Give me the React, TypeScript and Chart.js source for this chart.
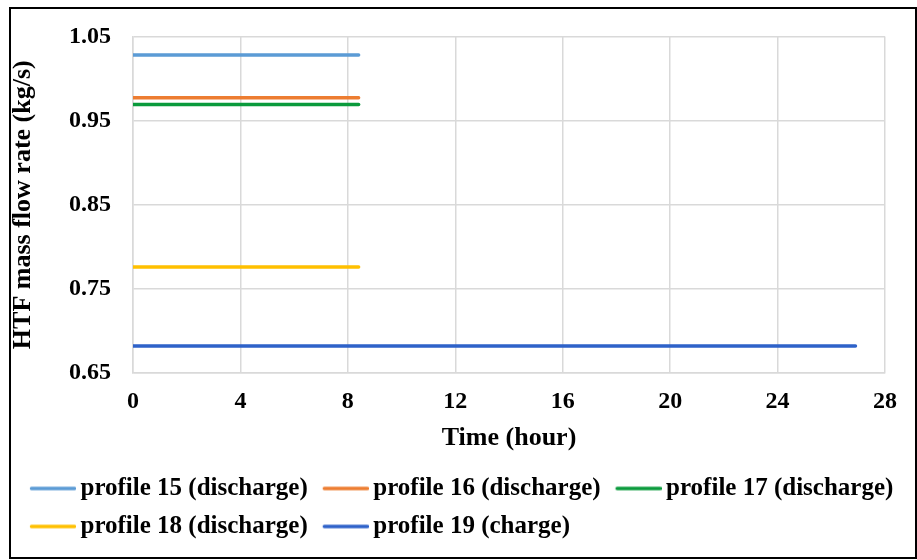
import React, { useEffect, useRef } from "react";
import { Chart, registerables } from "chart.js";

Chart.register(...registerables);

// ---- data ----
const seriesLabels = [
  "profile 15 (discharge)",
  "profile 16 (discharge)",
  "profile 17 (discharge)",
  "profile 18 (discharge)",
  "profile 19 (charge)",
];
const dischargeTimes = [0, 8.4];
const chargeTimes = [0, 26.9];
const flow15 = [1.028, 1.028];
const flow16 = [0.977, 0.977];
const flow17 = [0.969, 0.969];
const flow18 = [0.776, 0.776];
const flow19 = [0.682, 0.682];
const xTicks = [0, 4, 8, 12, 16, 20, 24, 28];
const yTicks = [0.65, 0.75, 0.85, 0.95, 1.05];

const seriesColors = ["#5b9bd5", "#ed7d31", "#0a9a3c", "#ffc000", "#2e62c9"];
const FONT = "'Liberation Serif', 'Times New Roman', serif";

function toPoints(xs: number[], ys: number[]) {
  return xs.map((x, i) => ({ x, y: ys[i] }));
}

// legend sample: a short line drawn into a small canvas, placed near the label text
function legendSwatch(color: string) {
  const c = document.createElement("canvas");
  c.width = 56;
  c.height = 6;
  const ctx = c.getContext("2d")!;
  ctx.strokeStyle = color;
  ctx.lineWidth = 3.5;
  ctx.lineCap = "round";
  ctx.beginPath();
  ctx.moveTo(11.5, 3);
  ctx.lineTo(54.5, 3);
  ctx.stroke();
  return c;
}

export default function App() {
  const ref = useRef<HTMLCanvasElement>(null);

  useEffect(() => {
    if (!ref.current) return;
    const seriesData = [
      toPoints(dischargeTimes, flow15),
      toPoints(dischargeTimes, flow16),
      toPoints(dischargeTimes, flow17),
      toPoints(dischargeTimes, flow18),
      toPoints(chargeTimes, flow19),
    ];
    const grid = "#d9d9d9";
    const chart = new Chart(ref.current, {
      type: "line",
      data: {
        datasets: seriesLabels.map((label, i) => ({
          label,
          data: seriesData[i],
          borderColor: seriesColors[i],
          backgroundColor: seriesColors[i],
          borderWidth: 3.5,
          borderCapStyle: "round",
          pointRadius: 0,
          pointStyle: legendSwatch(seriesColors[i]),
          fill: false,
          xAxisID: "x",
          yAxisID: "y",
        })),
      },
      options: {
        animation: false,
        responsive: false,
        events: [],
        layout: { padding: { left: 15, right: 0, top: 33, bottom: 11 } },
        plugins: {
          tooltip: { enabled: false },
          legend: {
            position: "bottom",
            align: "start",
            labels: {
              usePointStyle: true,
              pointStyleWidth: 40,
              boxHeight: 25,
              padding: 13,
              color: "#000",
              font: { family: FONT, size: 25, weight: "bold" },
            },
          },
        },
        scales: {
          x: {
            type: "linear",
            min: xTicks[0],
            max: xTicks[xTicks.length - 1],
            afterBuildTicks: (s: any) => {
              s.ticks = xTicks.map((v) => ({ value: v }));
            },
            afterFit: (s: any) => {
              s.height = 90;
            },
            grid: { color: grid, lineWidth: 1.5, drawTicks: false },
            border: { color: grid, width: 1.5 },
            ticks: {
              padding: 14,
              color: "#000",
              maxRotation: 0,
              autoSkip: false,
              font: { family: FONT, size: 24, weight: "bold" },
            },
            title: {
              display: true,
              text: "Time (hour)",
              color: "#000",
              padding: { top: 0, bottom: 9 },
              font: { family: FONT, size: 26, weight: "bold" },
            },
          },
          y: {
            type: "linear",
            position: "left",
            min: yTicks[0],
            max: yTicks[yTicks.length - 1],
            afterBuildTicks: (s: any) => {
              s.ticks = yTicks.map((v) => ({ value: v }));
            },
            afterFit: (s: any) => {
              s.width = 118;
            },
            grid: { color: grid, lineWidth: 1.5, drawTicks: false },
            border: { color: grid, width: 1.5 },
            ticks: {
              padding: 22,
              color: "#000",
              autoSkip: false,
              callback: (v: any) => Number(v).toFixed(2),
              font: { family: FONT, size: 24, weight: "bold" },
            },
            title: {
              display: true,
              text: "HTF mass flow rate (kg/s)",
              color: "#000",
              padding: { top: -7, bottom: 0 },
              font: { family: FONT, size: 26, weight: "bold" },
            },
          },
          yRight: {
            type: "linear",
            position: "right",
            display: true,
            afterFit: (s: any) => {
              s.width = 32;
            },
            grid: { display: false },
            border: { display: false },
            ticks: { display: false },
          },
        },
      },
    } as any);
    return () => chart.destroy();
  }, []);

  return (
    <div style={{ position: "absolute", left: 0, top: 0, width: 917, height: 560, background: "#fff" }}>
      <canvas ref={ref} width={917} height={560} style={{ display: "block", width: 917, height: 560 }} />
      <div
        style={{
          position: "absolute",
          left: 9,
          top: 7,
          width: 908,
          height: 552,
          border: "2px solid #000",
          boxSizing: "border-box",
          pointerEvents: "none",
        }}
      />
    </div>
  );
}
